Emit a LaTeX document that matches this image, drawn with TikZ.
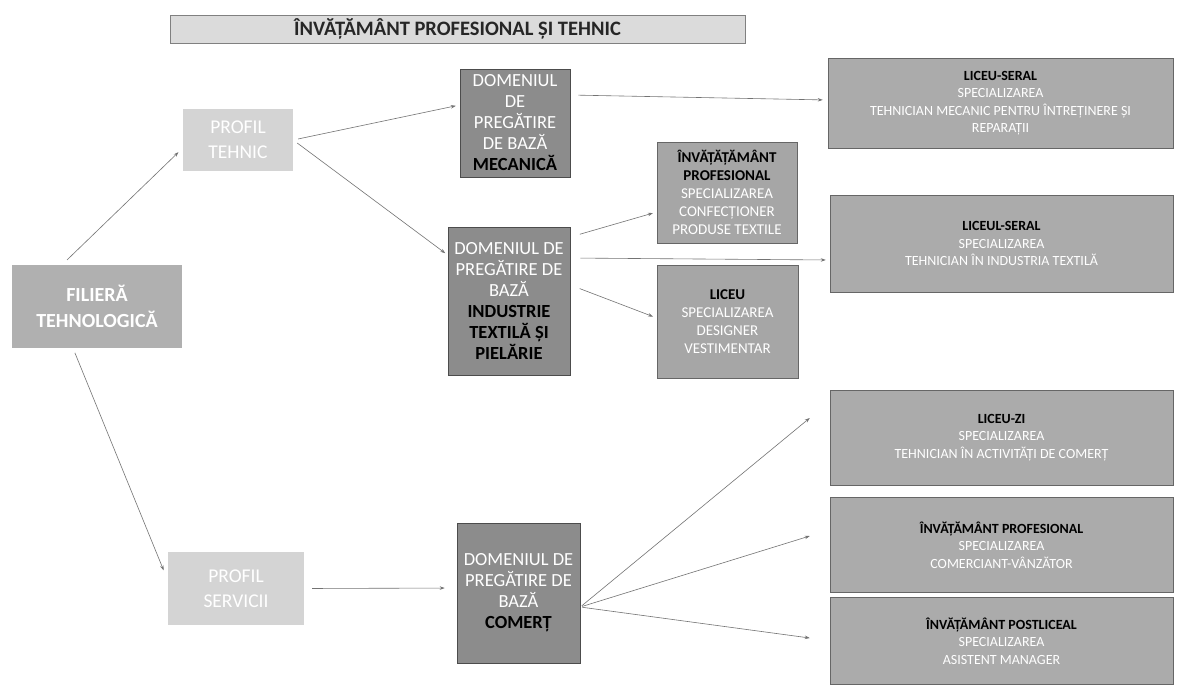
\documentclass[tikz,border=0pt]{standalone}
\usepackage{fontspec}
\setmainfont{Carlito}
\usetikzlibrary{arrows.meta}
\newcommand\kwblk[1]{{\color{black}\bfseries #1}}
\begin{document}
\begin{tikzpicture}[x=1pt,y=-1pt,
  box/.style={rectangle, align=center, inner sep=0pt, text=white},
  titlebox/.style={box, text=black!85, fill=black!14, draw=black!50, line width=0.8pt,
     font=\fontsize{20.5}{24}\selectfont\bfseries},
  profil/.style={box, fill=black!17, font=\fontsize{19.5}{25}\selectfont},
  filiera/.style={box, fill=black!31, font=\fontsize{20}{26}\selectfont\bfseries},
  dom/.style={box, fill=black!45, draw=black!70, line width=0.6pt, font=\fontsize{18.5}{21}\selectfont},
  mid/.style={box, fill=black!35, draw=black!60, line width=0.5pt, font=\fontsize{15}{18}\selectfont},
  rbox/.style={box, fill=black!33, draw=black!60, line width=0.5pt, font=\fontsize{14}{17.5}\selectfont},
  arr/.style={draw=black!55, line width=0.6pt, -{Stealth[length=5pt,width=3.5pt]}}
]
\useasboundingbox (0,0) rectangle (1178,689);
\fill[white] (0,0) rectangle (1178,689);

% title
\node[titlebox, minimum width=575pt, minimum height=28pt] (title) at (457.5,29) {ÎNVĂȚĂMÂNT PROFESIONAL ȘI TEHNIC};

% left column
\node[filiera, minimum width=170pt, minimum height=83pt] (ft) at (97,306.5) {FILIERĂ\\TEHNOLOGICĂ};
\node[profil, minimum width=110pt, minimum height=62pt] (pt) at (238,140) {PROFIL\\TEHNIC};
\node[profil, minimum width=136pt, minimum height=73pt] (ps) at (236,588.5) {PROFIL\\SERVICII};

% domains
\node[dom, minimum width=110pt, minimum height=108pt] (mec) at (515,123)
  {DOMENIUL\\DE\\PREGĂTIRE\\DE BAZĂ\\\kwblk{MECANICĂ}};
\node[dom, minimum width=122pt, minimum height=148pt] (ind) at (509,301)
  {DOMENIUL DE\\PREGĂTIRE DE\\BAZĂ\\\kwblk{INDUSTRIE}\\\kwblk{TEXTILĂ ȘI}\\\kwblk{PIELĂRIE}};
\node[dom, minimum width=123pt, minimum height=140pt] (com) at (518.5,593)
  {DOMENIUL DE\\PREGĂTIRE DE\\BAZĂ\\\kwblk{COMERȚ}};

% middle boxes
\node[mid, minimum width=140pt, minimum height=101pt] (ip) at (727,192.5)
  {\kwblk{ÎNVĂȚĂȚĂMÂNT}\\\kwblk{PROFESIONAL}\\SPECIALIZAREA\\CONFECȚIONER\\PRODUSE TEXTILE};
\node[mid, minimum width=141pt, minimum height=113pt] (lic) at (727.5,321.5)
  {\kwblk{LICEU}\\SPECIALIZAREA\\DESIGNER\\VESTIMENTAR};

% right boxes
\node[rbox, minimum width=345pt, minimum height=90pt] (r1) at (1000.5,103)
  {\kwblk{LICEU-SERAL}\\SPECIALIZAREA\\TEHNICIAN MECANIC PENTRU ÎNTREȚINERE ȘI\\REPARAȚII};
\node[rbox, minimum width=343pt, minimum height=97pt] (r2) at (1001.5,243.5)
  {\kwblk{LICEUL-SERAL}\\SPECIALIZAREA\\TEHNICIAN ÎN INDUSTRIA TEXTILĂ};
\node[rbox, minimum width=343pt, minimum height=95pt] (r3) at (1001.5,437.5)
  {\kwblk{LICEU-ZI}\\SPECIALIZAREA\\TEHNICIAN ÎN ACTIVITĂȚI DE COMERȚ};
\node[rbox, minimum width=343pt, minimum height=95pt] (r4) at (1001.5,545)
  {\kwblk{ÎNVĂȚĂMÂNT PROFESIONAL}\\SPECIALIZAREA\\COMERCIANT-VÂNZĂTOR};
\node[rbox, minimum width=343pt, minimum height=87pt] (r5) at (1001.5,641)
  {\kwblk{ÎNVĂȚĂMÂNT POSTLICEAL}\\SPECIALIZAREA\\ASISTENT MANAGER};

% connectors
\draw[arr, shorten <=7pt, shorten >=6pt] ([xshift=-35pt]ft.north) -- ([yshift=-8pt]pt.west);
\draw[arr, shorten <=5pt, shorten >=11pt] ([xshift=-24pt]ft.south) -- ([yshift=8pt]ps.west);
\draw[arr, shorten <=5pt, shorten >=4pt] (pt.east) -- ([yshift=18pt]mec.west);
\draw[arr, shorten <=5pt, shorten >=3pt] (pt.east) -- ([yshift=46pt]ind.west);
\draw[arr, shorten <=8pt, shorten >=5pt] ([yshift=28pt]mec.east) -- ([yshift=3pt]r1.west);
\draw[arr, shorten <=10pt, shorten >=4pt] ([yshift=64pt]ind.east) -- ([yshift=-19.5pt]ip.west);
\draw[arr, shorten <=10pt, shorten >=4pt] ([yshift=43pt]ind.east) -- ([yshift=-16.5pt]r2.west);
\draw[arr, shorten <=10pt, shorten >=4pt] ([yshift=16pt]ind.east) -- ([yshift=3.5pt]lic.west);
\draw[arr, shorten <=8pt, shorten >=12pt] (ps.east) -- ([yshift=5pt]com.west);
\draw[arr, shorten <=2pt] ([yshift=-14pt]com.east) -- ([xshift=-20pt,yshift=19.5pt]r3.west);
\draw[arr, shorten <=2pt] ([yshift=-14pt]com.east) -- ([xshift=-20pt,yshift=9pt]r4.west);
\draw[arr, shorten <=2pt] ([yshift=-14pt]com.east) -- ([xshift=-20pt,yshift=3pt]r5.west);
\end{tikzpicture}
\end{document}
